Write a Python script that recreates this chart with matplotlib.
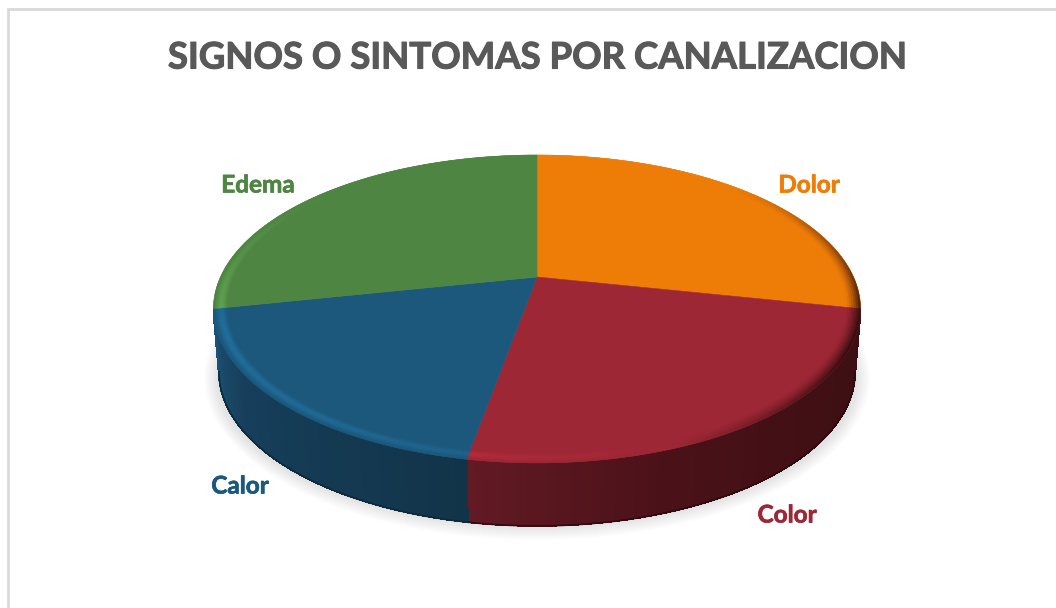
import matplotlib
matplotlib.use('Agg')
import matplotlib.pyplot as plt
import matplotlib.patheffects as pe
from matplotlib.collections import PolyCollection
from matplotlib.colors import to_rgb
from matplotlib.patches import Ellipse
import numpy as np

# Data
title = 'SIGNOS O SINTOMAS POR CANALIZACION'
categories = ['Dolor', 'Color', 'Calor', 'Edema']
values = [30, 26, 20, 30]
colors = ['#ee7d08', '#9e2735', '#1b587c', '#4e8542']
label_pos = [(809, 185), (787, 515), (240, 486), (258, 185)]

# Wall shading from one end of the slice to the other
wall_stops = {
    'Color': ['#3d0f12', '#401014', '#4a1119', '#621a23'],
    'Calor': ['#123449', '#143a52', '#173f5c', '#1c5374'],
}

# Perspective of the pie, in pixels
cx, cy = 537, 277
a, k, s = 147.3, 0.2076, 316.5
depth, shrink = 63, 0.983


def project(r, theta):
    # theta runs clockwise from the top of the pie, in degrees
    t = np.radians(theta)
    u, v = r * np.sin(t), r * np.cos(t)
    w = 1 + k * v
    return cx + s * u / w, cy - a * v / w


def lower(x, y):
    return cx + shrink * (x - cx), y + depth


def blend(c1, c2, t):
    return tuple((1 - t) * np.array(to_rgb(c1)) + t * np.array(to_rgb(c2)))


def brighter(c, f):
    return tuple(np.clip(np.array(to_rgb(c)) * f, 0, 1))


fig = plt.figure(figsize=(10.56, 6.08), dpi=100)
ax = fig.add_axes([0, 0, 1, 1])
ax.set_xlim(0, 1056)
ax.set_ylim(608, 0)
ax.axis('off')

# Chart border, only top and left show up in the crop
ax.plot([8, 8, 1056], [608, 9, 9], color='#d9d9d9', lw=2, solid_joinstyle='miter')

# Soft shadow under the pie
for i in range(14):
    ax.add_patch(Ellipse((537, 378), 2 * (333 - i), 2 * (162 - i), fc='#000000', ec='none', alpha=0.009, zorder=1))

edges = np.cumsum([0] + values) / sum(values) * 360

# Side walls
for name, col, t0, t1 in zip(categories, colors, edges[:-1], edges[1:]):
    if name not in wall_stops:
        continue
    th = np.linspace(t0, t1, int(t1 - t0) * 2 + 2)
    x, y = project(1, th)
    xb, yb = lower(x, y)
    polys, cols = [], []
    stops = wall_stops[name]
    for i in range(len(th) - 1):
        polys.append([(x[i], y[i]), (x[i + 1], y[i + 1]), (xb[i + 1], yb[i + 1]), (xb[i], yb[i])])
        f = i / (len(th) - 2) * (len(stops) - 1)
        j = min(int(f), len(stops) - 2)
        cols.append(blend(stops[j], stops[j + 1], f - j))
    ax.add_collection(PolyCollection(polys, facecolors=cols, edgecolors=cols, linewidths=0.6,
                                     antialiaseds=False, zorder=2))
    ax.plot(xb, yb, color=blend(stops[1], '#000000', 0.3), lw=1.2, zorder=3)

# Top faces
for col, t0, t1 in zip(colors, edges[:-1], edges[1:]):
    th = np.linspace(t0, t1, 200)
    x, y = project(1, th)
    ax.fill(np.r_[cx, x], np.r_[cy, y], color=col, lw=0.4, zorder=4)

# Bevel round the rim: light on the front left, dark on the right
radii = np.linspace(0.955, 1, 8)
for col, t0, t1 in zip(colors, edges[:-1], edges[1:]):
    th = np.linspace(t0, t1, int(t1 - t0) + 2)
    light = brighter(col, 1.25)
    polys, cols = [], []
    for n in range(len(radii) - 1):
        for i in range(len(th) - 1):
            x1, y1 = project(radii[n], th[i:i + 2])
            x2, y2 = project(radii[n + 1], th[i:i + 2])
            polys.append([(x1[0], y1[0]), (x1[1], y1[1]), (x2[1], y2[1]), (x2[0], y2[0])])
            mid = np.radians((th[i] + th[i + 1]) / 2)
            fade = np.clip(0.7 - np.cos(mid), 0, 1)
            shade = np.cos(mid - np.radians(250))
            rad = (n + 0.5) / (len(radii) - 1)
            if shade > 0:
                cols.append(blend(col, light, shade * fade * np.sin(rad * np.pi) ** 2))
            else:
                cols.append(blend(col, '#2c0a0c', min(1, -1.5 * shade) * fade * rad ** 1.5))
    ax.add_collection(PolyCollection(polys, facecolors=cols, edgecolors=cols, linewidths=0.3, zorder=5))

font = 'Lato'
ax.text(537, 58, title, ha='center', va='center', fontsize=26.3, fontweight='bold', color='#595959', family=font,
        path_effects=[pe.withStroke(linewidth=0.8, foreground='#595959')])
for name, col, (lx, ly) in zip(categories, colors, label_pos):
    ax.text(lx, ly, name, ha='center', va='center', fontsize=17.5, fontweight='bold', color=col, family=font,
            path_effects=[pe.withStroke(linewidth=0.5, foreground=col)])

fig.savefig('out.png', dpi=100)
